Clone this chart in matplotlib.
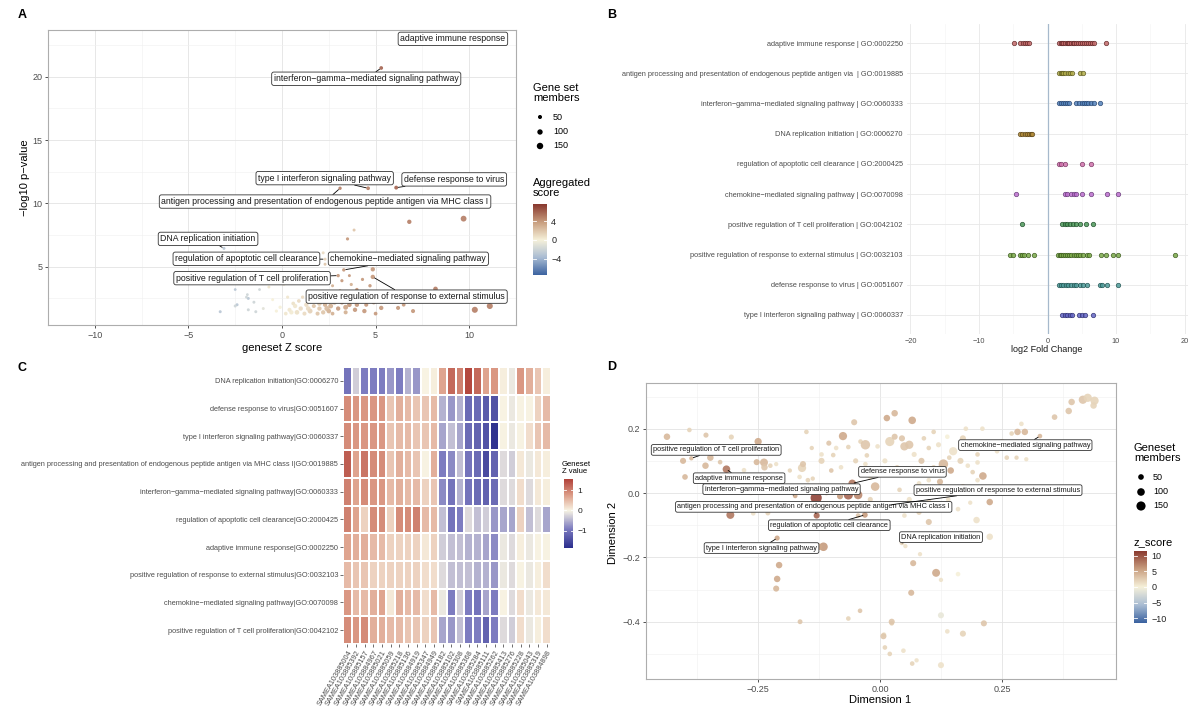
import matplotlib
matplotlib.use("Agg")
import matplotlib.pyplot as plt
import numpy as np
from matplotlib.colors import LinearSegmentedColormap, Normalize, TwoSlopeNorm

plt.rcParams['font.family'] = ['Liberation Sans', 'DejaVu Sans']
M = "\u2212"

# ---------------- panel A data: geneset Z score vs -log10 p ----------------
a_lab_terms = ["adaptive immune response",
               f"interferon{M}gamma{M}mediated signaling pathway",
               "type I interferon signaling pathway",
               "defense response to virus",
               "antigen processing and presentation of endogenous peptide antigen via MHC class I",
               "DNA replication initiation",
               "regulation of apoptotic cell clearance",
               f"chemokine{M}mediated signaling pathway",
               "positive regulation of T cell proliferation",
               "positive regulation of response to external stimulus"]
a_lab_z = [9.0, 5.3, 4.6, 6.1, 3.1, -3.1, 2.3, 3.3, 3.0, 4.85]
a_lab_p = [22.8, 20.7, 11.2, 11.25, 11.2, 6.45, 5.6, 4.75, 4.3, 4.2]
a_lab_members = [140, 40, 40, 45, 30, 20, 20, 30, 30, 60]
a_lab_score = [6.5, 6, 5, 6, 5, -3, 1.5, 4, 4, 4]

a_z = [6.8, 9.7, 3.85, 3.5, 2.2, 2.3, 4.85, 8.2, 4.3, 3.7,
       3.2, 2.7, 11.1, 10.3, 6.2, 5.3, 4.9, 4.5, 4.2, 3.9,
       3.6, 3.3, 3.0, 2.8, 2.5, 2.3, 2.0, 1.8, 1.5, 1.3,
       1.0, 0.8, 0.6, 0.4, 0.2, -0.1, 1.1, 1.6, 2.1, 2.6,
       3.1, 3.5, 4.0, 4.7, 2.9, 3.8, 3.4, 2.7, 1.9, 1.2,
       4.4, 5.0, 5.7, 6.5, 7.0, 2.4, 1.7, 0.9, 0.3, -0.7,
       -1.0, -1.2, -1.4, -1.8, -1.8, -1.85, -2.4, -2.5, -2.5, -3.3,
       -1.9, -1.5, -0.5, -0.3, 0.1, 3.6, 2.5, 2.0, 1.4, 3.2,
       0.7, 1.6, 2.2, 0.5, 1.9, 2.6, 3.4, 4.0, 3.7, 2.4]
a_p = [8.55, 8.8, 7.9, 7.2, 6.1, 5.2, 4.8, 3.25, 4.0, 3.6,
       3.9, 3.5, 1.9, 1.6, 1.75, 1.75, 2.2, 2.0, 2.4, 1.6,
       2.0, 2.5, 1.7, 2.2, 1.5, 2.0, 1.7, 2.3, 1.5, 2.0,
       1.7, 1.4, 2.1, 1.6, 1.3, 1.8, 2.6, 3.0, 2.8, 3.0,
       3.1, 2.8, 3.2, 3.5, 2.6, 2.7, 1.4, 1.3, 1.3, 1.3,
       1.5, 1.3, 2.4, 2.0, 1.5, 2.4, 1.9, 2.3, 2.6, 3.4,
       1.7, 3.2, 1.45, 1.6, 2.5, 2.8, 2.0, 3.2, 1.9, 1.45,
       2.6, 2.2, 2.4, 1.5, 3.6, 4.3, 4.2, 2.1, 1.7, 2.2,
       1.9, 2.4, 1.4, 1.4, 2.6, 1.9, 1.8, 2.0, 2.4, 1.7]
a_members = [60, 120, 20, 25, 20, 20, 60, 70, 25, 25,
             25, 20, 130, 130, 50, 60, 60, 50, 70, 60,
             70, 40, 60, 80, 70, 60, 60, 50, 80, 60,
             60, 70, 40, 50, 40, 30, 30, 25, 30, 30,
             25, 30, 30, 30, 70, 50, 50, 40, 50, 50,
             60, 40, 30, 40, 50, 50, 50, 40, 25, 20,
             20, 15, 20, 20, 20, 15, 20, 15, 20, 20,
             15, 20, 20, 25, 15, 20, 20, 70, 70, 70,
             60, 60, 60, 60, 40, 80, 80, 60, 60, 90]
a_score = [5, 5, 2, 4, 1, 2, 4, 5, 4, 3,
           4, 3, 5, 5, 4, 4, 4, 4, 4, 4,
           4, 4, 4, 3, 3, 3, 2, 2, 1.5, 1,
           1, 0.8, 0.8, 0.5, 0.5, 0, 1, 2, 2, 3,
           3, 3, 4, 4, 3, 4, 3, 3, 2, 1,
           4, 4, 4, 4, 4, 3, 2, 1, 0.5, 0.5,
           -1, -2, -2, -2, -3, -2, -3, -3, -2, -3,
           -2, -2, 0, 0, 0.5, 4, 3, 2, 1, 4,
           0.5, 1.5, 2, 0.3, 2, 3, 3.5, 4, 3.5, 2.5]

# ---------------- panel B data: log2 fold change per gene set ----------------
b_terms = ["adaptive immune response | GO:0002250",
           "antigen processing and presentation of endogenous peptide antigen via  | GO:0019885",
           f"interferon{M}gamma{M}mediated signaling pathway | GO:0060333",
           "DNA replication initiation | GO:0006270",
           "regulation of apoptotic cell clearance | GO:2000425",
           f"chemokine{M}mediated signaling pathway | GO:0070098",
           "positive regulation of T cell proliferation | GO:0042102",
           "positive regulation of response to external stimulus | GO:0032103",
           "defense response to virus | GO:0051607",
           "type I interferon signaling pathway | GO:0060337"]
b_log2fc = [
    [-4.9, -4.0, -3.6, -3.3, -3.0, -2.7, 1.7, 1.9, 2.1, 2.3, 2.5, 2.8, 3.0, 3.2, 3.5, 3.7,
     3.9, 4.2, 4.5, 4.8, 5.0, 5.3, 5.6, 5.9, 6.2, 6.5, 6.8, 8.5],
    [1.7, 1.9, 2.1, 2.3, 2.6, 3.0, 3.3, 3.6, 4.7, 5.2],
    [1.7, 1.9, 2.2, 2.5, 2.9, 3.2, 4.2, 4.6, 5.0, 5.3, 5.6, 5.9, 6.3, 6.8, 7.7],
    [-4.0, -3.7, -3.3, -3.0, -2.7, -2.4, -2.2],
    [1.7, 2.0, 2.5, 5.0, 6.3],
    [-4.6, 2.6, 2.9, 3.5, 3.8, 4.2, 5.0, 6.3, 8.7, 10.3],
    [-3.7, 2.1, 2.5, 2.9, 3.3, 3.7, 4.2, 4.7, 5.6, 6.6],
    [-5.5, -5.0, -4.0, -3.7, -3.5, -2.8, -1.9, 1.5, 1.8, 2.0, 2.3, 2.6, 2.9, 3.2, 3.5,
     3.8, 4.1, 4.4, 4.8, 5.2, 5.7, 6.0, 7.8, 8.6, 9.5, 10.3, 18.6],
    [1.7, 2.0, 2.3, 2.7, 3.0, 3.4, 3.8, 4.2, 4.7, 5.2, 5.7, 7.6, 7.9, 8.7, 10.3],
    [2.1, 2.5, 2.9, 3.3, 3.6, 4.6, 5.0, 5.4, 6.7],
]
b_fill = ["#c46a6a", "#b3ae4c", "#5684bd", "#b08a38", "#d273ad",
          "#bd6fcf", "#4f9a5c", "#7cab4a", "#4f9c9a", "#6567c6"]
b_edge = ["#5e2424", "#5a571c", "#24436e", "#5a4316", "#76325f",
          "#633675", "#1b4a26", "#38561a", "#1b4f4d", "#2a2b6e"]

# ---------------- panel C data: heatmap of geneset Z values ----------------
c_terms = ["DNA replication initiation|GO:0006270",
           "defense response to virus|GO:0051607",
           "type I interferon signaling pathway|GO:0060337",
           "antigen processing and presentation of endogenous peptide antigen via MHC class I|GO:0019885",
           f"interferon{M}gamma{M}mediated signaling pathway|GO:0060333",
           "regulation of apoptotic cell clearance|GO:2000425",
           "adaptive immune response|GO:0002250",
           "positive regulation of response to external stimulus|GO:0032103",
           f"chemokine{M}mediated signaling pathway|GO:0070098",
           "positive regulation of T cell proliferation|GO:0042102"]
c_samples = ["SAMEA103885004", "SAMEA103885392", "SAMEA103885157", "SAMEA103884967",
             "SAMEA103885021", "SAMEA103885059", "SAMEA103885218", "SAMEA103885136",
             "SAMEA103884919", "SAMEA103885347", "SAMEA103884949", "SAMEA103885182",
             "SAMEA103885102", "SAMEA103885308", "SAMEA103885368", "SAMEA103885284",
             "SAMEA103885111", "SAMEA103885262", "SAMEA103885413", "SAMEA103885276",
             "SAMEA103885228", "SAMEA103885043", "SAMEA103885319", "SAMEA103884898"]
c_z = [
    [-1.0, -0.3, -0.9, -0.9, -0.9, -0.7, -0.9, -0.5, -0.7, 0.0, 0.05, 0.7, 1.2, 1.0, 1.5, 1.2, 0.7, 0.8, 0.05, -0.1, 0.8, 0.6, 0.4, 0.05],
    [0.9, 0.8, 0.8, 0.8, 0.8, 0.4, 0.6, 0.5, 0.4, 0.4, 0.5, -0.5, -0.7, -0.5, -1.1, -1.1, -1.3, -1.4, 0.0, -0.1, 0.02, 0.02, 0.3, 0.5],
    [0.9, 0.8, 0.8, 0.8, 0.8, 0.4, 0.5, 0.5, 0.4, 0.4, 0.5, -0.6, -0.4, -0.6, -1.1, -1.2, -1.4, -1.8, 0.02, -0.1, 0.02, 0.2, 0.4, 0.5],
    [1.3, 0.7, 1.1, 0.9, 0.9, 0.4, 0.6, 0.5, 0.4, 0.02, 0.6, -0.9, -0.8, -0.4, -1.0, -1.1, -1.5, -1.2, -0.2, -0.3, 0.1, -0.1, 0.1, 0.05],
    [1.0, 0.7, 0.9, 0.8, 0.8, 0.5, 0.6, 0.5, 0.5, 0.3, 0.4, -0.8, -1.0, -0.5, -1.0, -1.1, -1.2, -1.1, -0.2, -0.2, 0.2, -0.2, 0.1, 0.05],
    [1.0, 0.7, 0.3, 0.9, 0.9, 0.3, 0.9, 0.9, 1.0, 0.5, 0.5, -0.4, -1.0, -0.9, -0.2, -0.4, -0.3, -0.7, -0.6, -0.6, 0.3, -0.4, -0.2, -0.6],
    [0.7, 0.6, 0.6, 0.5, 0.5, 0.3, 0.3, 0.3, 0.3, 0.1, 0.3, -0.3, -0.4, -0.4, -0.5, -0.5, -0.6, -0.8, -0.1, -0.2, 0.05, -0.1, 0.02, 0.02],
    [0.5, 0.4, 0.4, 0.3, 0.3, 0.3, 0.3, 0.3, 0.3, 0.2, 0.2, -0.2, -0.4, -0.4, -0.4, -0.5, -0.5, -0.7, -0.1, -0.2, 0.02, -0.1, 0.05, 0.2],
    [0.8, 0.5, 0.5, 0.6, 0.7, 0.1, 0.6, 0.5, 0.5, 0.2, 0.5, -0.1, -0.9, -0.3, -0.9, -1.0, -0.6, -0.9, 0.02, -0.2, 0.2, -0.1, 0.1, 0.1],
    [0.9, 0.8, 0.9, 0.6, 0.6, 0.5, 0.5, 0.4, 0.4, 0.3, 0.4, -0.6, -0.7, -0.4, -0.9, -0.9, -1.2, -0.9, -0.2, -0.3, 0.2, -0.1, 0.05, 0.2],
]

# ---------------- panel D data: MDS of gene sets ----------------
d_lab_terms = ["positive regulation of T cell proliferation",
               "adaptive immune response",
               f"interferon{M}gamma{M}mediated signaling pathway",
               "antigen processing and presentation of endogenous peptide antigen via MHC class I",
               "defense response to virus",
               "regulation of apoptotic cell clearance",
               "type I interferon signaling pathway",
               "DNA replication initiation",
               "positive regulation of response to external stimulus",
               f"chemokine{M}mediated signaling pathway"]
d_lab_x = [-0.387, -0.315, -0.174, -0.13, -0.057, -0.031, -0.211, 0.045, 0.02, 0.328]
d_lab_y = [0.108, 0.074, -0.009, -0.07, 0.03, -0.068, -0.14, -0.155, -0.037, 0.177]
d_lab_members = [25, 100, 30, 60, 100, 50, 40, 30, 40, 30]
d_lab_z = [4, 8, 5, 9, 8, 6, 5, 2, 3, 4]

d_x = [-0.437, -0.391, -0.357, -0.305, -0.25, -0.404, -0.348, -0.358, -0.40, -0.328,
       -0.307, -0.279, -0.253, -0.238, -0.237, -0.225, -0.213, -0.26, -0.23, -0.207,
       -0.211, -0.213, -0.164, -0.28, -0.33, -0.243, -0.265, -0.116, -0.125, -0.131,
       -0.16, -0.158, -0.151, -0.14, -0.165, -0.148, -0.138, -0.096, -0.09, -0.076,
       -0.065, -0.053, -0.04, -0.03, -0.027, -0.065, -0.045, -0.082, -0.075, -0.07,
       -0.045, -0.065, -0.041, -0.01, -0.02, -0.005, -0.11, -0.1, -0.12, -0.105,
       -0.185, -0.19, -0.02, 0.014, 0.03, 0.024, 0.008, 0.02, 0.02, 0.066,
       0.045, 0.03, 0.06, 0.05, 0.07, 0.085, 0.1, 0.123, 0.126, 0.15,
       0.142, 0.145, 0.13, 0.122, 0.11, 0.211, 0.18, 0.19, 0.2, 0.225,
       0.198, 0.225, 0.185, 0.096, 0.074, 0.052, 0.082, 0.068, 0.115, 0.16,
       0.125, 0.064, 0.125, 0.213, 0.024, 0.138, 0.17, 0.007, 0.01, 0.048,
       0.066, 0.125, 0.075, 0.05, 0.08, 0.1, 0.06, 0.04, 0.1, 0.16,
       0.17, 0.393, 0.416, 0.426, 0.44, 0.438, 0.387, 0.358, 0.297, 0.282,
       0.27, 0.29, 0.28, 0.3, 0.26, 0.176, 0.27, 0.25, 0.01, 0.035,
       0.055, -0.01, 0.09, 0.11, 0.17, 0.19, 0.2, 0.24, 0.165, 0.21,
       -0.03, -0.05, 0.12, 0.138, 0.08, 0.14, 0.1, 0.2, -0.08, -0.12]
d_y = [0.175, 0.196, 0.18, 0.174, 0.16, 0.10, 0.11, 0.085, 0.05, 0.096,
       -0.068, 0.071, 0.096, 0.095, 0.08, 0.085, 0.09, -0.063, -0.062, -0.224,
       -0.267, -0.297, -0.40, 0.13, 0.13, 0.03, 0.0, -0.167, -0.167, -0.015,
       0.078, 0.09, 0.19, 0.14, 0.05, 0.04, 0.045, 0.118, 0.14, 0.177,
       0.143, 0.22, 0.16, 0.15, 0.117, -0.006, -0.006, -0.01, 0.02, -0.05,
       -0.07, -0.39, -0.366, 0.02, 0.05, 0.145, 0.0, 0.07, 0.1, 0.155,
       0.07, -0.04, -0.02, 0.233, 0.248, -0.405, -0.44, -0.50, 0.16, 0.226,
       0.17, 0.175, 0.15, 0.145, 0.12, 0.1, 0.14, 0.035, 0.01, 0.13,
       0.11, 0.07, 0.09, 0.075, 0.08, 0.053, 0.085, 0.065, 0.095, -0.028,
       -0.084, -0.136, -0.03, -0.136, -0.138, -0.165, -0.19, -0.218, -0.248, -0.252,
       -0.27, -0.31, -0.38, -0.405, -0.40, -0.43, -0.437, -0.445, -0.48, -0.49,
       -0.53, -0.535, -0.52, -0.07, -0.06, -0.09, -0.02, 0.01, 0.04, -0.05,
       0.02, 0.283, 0.29, 0.296, 0.287, 0.272, 0.255, 0.236, 0.19, 0.19,
       0.185, 0.215, 0.11, 0.105, 0.11, 0.2, 0.14, 0.16, 0.1, 0.08,
       0.06, 0.07, 0.17, 0.19, 0.17, 0.14, 0.12, 0.13, 0.1, 0.2,
       0.09, 0.1, 0.15, 0.175, 0.03, -0.02, -0.03, 0.04, 0.08, 0.12]
d_members = [70, 30, 40, 40, 90, 60, 70, 70, 50, 30,
             110, 30, 60, 110, 70, 30, 25, 30, 35, 70,
             70, 60, 35, 25, 30, 25, 25, 130, 70, 230,
             120, 60, 30, 25, 30, 30, 25, 30, 30, 120,
             30, 60, 30, 160, 30, 150, 130, 60, 60, 30,
             30, 30, 30, 130, 30, 30, 30, 30, 60, 40,
             25, 30, 40, 70, 70, 30, 30, 30, 150, 100,
             60, 60, 120, 120, 40, 60, 30, 60, 30, 120,
             30, 70, 160, 70, 30, 100, 30, 30, 30, 70,
             70, 70, 25, 70, 60, 25, 25, 60, 110, 30,
             25, 60, 60, 60, 60, 30, 60, 60, 30, 30,
             30, 60, 25, 30, 40, 60, 40, 30, 30, 30,
             40, 70, 120, 120, 120, 70, 70, 50, 70, 70,
             30, 30, 25, 25, 30, 30, 25, 40, 40, 30,
             60, 40, 30, 30, 60, 40, 30, 30, 60, 30,
             30, 40, 40, 30, 30, 30, 60, 30, 30, 30]
d_z = [4, 2, 3, 2, 5, 4, 4, 4, 4, 3,
       8, 1, 4, 4, 3, 2, 1, 1, 2, 5,
       5, 4, 3, 2, 3, 2, 1, 6, 5, 11,
       2, 3, 2, 2, 1, 2, 2, 2, 1, 5,
       2, 3, 2, 3, 2, 9, 7, 6, 4, 2,
       3, 2, 3, 4, 1, 1, 3, 3, 2, 3,
       2, 2, 2, 5, 4, 2, 1, 2, 2, 5,
       3, 3, 3, 3, 1, 3, 2, 4, 2, 1,
       2, 5, 4, 4, 2, 5, 1, 2, 1, 5,
       1, 1, 1, 4, 4, 1, 1, 4, 5, 0,
       1, 4, -1, 3, 3, 1, 2, 3, 2, 1,
       2, 1, 1, 1, 2, 3, 1, 2, 1, 1,
       2, 3, 3, 2, 2, 2, 3, 3, 4, 4,
       2, 1, 2, 1, 2, 1, 1, 2, 1, 2,
       2, 2, 2, 2, 2, 3, 2, 1, 2, 1,
       1, 2, 1, 0, 1, 1, 2, 1, 1, 1]

legend_members = [50, 100, 150]

# ---------------- layout helpers ----------------
W, H = 1200, 722


def box(l, t, r, b):
    return [l / W, 1 - b / H, (r - l) / W, (b - t) / H]


def size_a(m):
    return 2 + 0.13 * np.asarray(m, dtype=float)


def size_d(m):
    return 3 + 0.27 * np.asarray(m, dtype=float)


score_cmap = LinearSegmentedColormap.from_list(
    "score", ["#3a62a0", "#a9bcd3", "#f6f1da", "#c99f80", "#8a3a30"])
heat_cmap = LinearSegmentedColormap.from_list(
    "heat", ["#2c2f8e", "#7b7abf", "#f8f4e4", "#dc9b86", "#b1423a"])

TXT = "#4d4d4d"


def style_bw(ax):
    ax.set_facecolor("white")
    for s in ax.spines.values():
        s.set_color("#adadad")
        s.set_linewidth(0.8)
    ax.grid(which="major", color="#e3e3e3", lw=0.6)
    ax.grid(which="minor", color="#f0f0f0", lw=0.4)
    ax.set_axisbelow(True)
    ax.tick_params(which="major", length=2.5, width=0.6, color="#333333",
                   labelsize=6.5, labelcolor=TXT, pad=1.5)
    ax.tick_params(which="minor", length=0)


def gradient_bar(rect, cmap, norm, vmin, vmax, ticks, labels, fs):
    cax = fig.add_axes(box(*rect))
    grad = np.linspace(vmin, vmax, 256)[:, None]
    cax.imshow(grad, extent=[0, 1, vmin, vmax], origin="lower", aspect="auto",
               cmap=cmap, norm=norm)
    for t in ticks:
        cax.plot([0, 0.2], [t, t], color="white", lw=0.6)
        cax.plot([0.8, 1], [t, t], color="white", lw=0.6)
    cax.set_xlim(0, 1)
    cax.set_ylim(vmin, vmax)
    cax.set_xticks([])
    cax.yaxis.tick_right()
    cax.set_yticks(ticks)
    cax.set_yticklabels(labels)
    cax.tick_params(axis="y", length=0, labelsize=fs, pad=3, labelcolor="#222222")
    for s in cax.spines.values():
        s.set_visible(False)
    return cax


def draw_labels(ax, terms, px, py, tx, ty, fs):
    for t, x0, y0, x1, y1 in zip(terms, px, py, tx, ty):
        ax.annotate(t, xy=(x0, y0), xytext=(x1, y1), fontsize=fs, color="#1a1a1a",
                    ha="center", va="center", zorder=6,
                    bbox=dict(boxstyle="round,pad=0.25,rounding_size=0.25",
                              fc="white", ec="#333333", lw=0.6),
                    arrowprops=dict(arrowstyle="-", lw=0.6, color="black",
                                    shrinkA=0, shrinkB=1.5))


fig = plt.figure(figsize=(12, 7.22), dpi=100)

# ---------------- panel A ----------------
ax_a = fig.add_axes(box(48, 30, 516, 325))
style_bw(ax_a)
score_norm = Normalize(-7.5, 7.5)
ax_a.scatter(a_z, a_p, s=size_a(a_members), c=a_score, cmap=score_cmap,
             norm=score_norm, alpha=0.9, linewidths=0, zorder=3)
ax_a.scatter(a_lab_z, a_lab_p, s=size_a(a_lab_members), c=a_lab_score,
             cmap=score_cmap, norm=score_norm, alpha=0.9, linewidths=0, zorder=3)
ax_a.set_xlim(-12.3, 12.3)
ax_a.set_ylim(0.4, 23.7)
ax_a.set_xticks([-10, -5, 0, 5, 10])
ax_a.set_xticks([-12.5, -7.5, -2.5, 2.5, 7.5, 12.5], minor=True)
ax_a.set_yticks([5, 10, 15, 20])
ax_a.set_yticks([2.5, 7.5, 12.5, 17.5, 22.5], minor=True)
a_tx = [9.13, 4.5, 2.28, 9.2, 2.3, -3.95, -1.9, 6.75, -1.6, 6.66]
a_ty = [23.0, 19.85, 12.0, 11.9, 10.15, 7.2, 5.63, 5.63, 4.1, 2.64]
draw_labels(ax_a, a_lab_terms, a_lab_z, a_lab_p, a_tx, a_ty, 6.3)

# ---------------- panel B ----------------
ax_b = fig.add_axes(box(907, 24, 1188, 334))
ax_b.set_facecolor("white")
for s in ax_b.spines.values():
    s.set_visible(False)
ax_b.grid(which="major", color="#e8e8e8", lw=0.6)
ax_b.grid(which="minor", axis="x", color="#f3f3f3", lw=0.4)
ax_b.set_axisbelow(True)
ax_b.axvline(0, color="#a6b9cc", lw=0.9, zorder=1)
for i, vals in enumerate(b_log2fc):
    ax_b.scatter(vals, [i + 1] * len(vals), s=10, facecolor=b_fill[i],
                 edgecolor=b_edge[i], linewidths=0.55, alpha=0.85, zorder=3)
ax_b.set_xlim(-20.5, 20.5)
ax_b.set_ylim(10.63, 0.37)
ax_b.set_xticks([-20, -10, 0, 10, 20])
ax_b.set_xticks([-15, -5, 5, 15], minor=True)
ax_b.set_yticks(range(1, len(b_terms) + 1))
ax_b.set_yticklabels(b_terms)
ax_b.tick_params(which="both", length=0, labelsize=5.3, labelcolor=TXT, pad=3)

# ---------------- panel C ----------------
ax_c = fig.add_axes(box(343, 367, 551, 644))
heat_norm = TwoSlopeNorm(vmin=-1.85, vcenter=0, vmax=1.55)
ax_c.pcolormesh(np.arange(len(c_samples) + 1), np.arange(len(c_terms) + 1),
                np.array(c_z), cmap=heat_cmap, norm=heat_norm,
                edgecolors="white", linewidth=0.25)
ax_c.set_xlim(0, len(c_samples))
ax_c.set_ylim(len(c_terms), 0)
for s in ax_c.spines.values():
    s.set_visible(False)
ax_c.set_xticks(np.arange(len(c_samples)) + 0.5)
ax_c.set_xticklabels(c_samples, rotation=60, ha="right", va="top",
                     rotation_mode="anchor")
ax_c.set_yticks(np.arange(len(c_terms)) + 0.5)
ax_c.set_yticklabels(c_terms)
ax_c.tick_params(length=2, width=0.5, color="#333333", labelsize=5.3,
                 labelcolor=TXT, pad=1.5)

# ---------------- panel D ----------------
ax_d = fig.add_axes(box(646, 383, 1116, 679))
style_bw(ax_d)
z_norm = Normalize(-11.6, 11.6)
ax_d.scatter(d_x, d_y, s=size_d(d_members), c=d_z, cmap=score_cmap, norm=z_norm,
             alpha=0.9, linewidths=0, zorder=3)
ax_d.scatter(d_lab_x, d_lab_y, s=size_d(d_lab_members), c=d_lab_z, cmap=score_cmap,
             norm=z_norm, alpha=0.9, linewidths=0, zorder=3)
ax_d.set_xlim(-0.48, 0.484)
ax_d.set_ylim(-0.578, 0.342)
ax_d.set_xticks([-0.25, 0, 0.25])
ax_d.set_xticklabels([f"{M}0.25", "0.00", "0.25"])
ax_d.set_xticks([-0.375, -0.125, 0.125, 0.375], minor=True)
ax_d.set_yticks([-0.4, -0.2, 0, 0.2])
ax_d.set_yticklabels([f"{M}0.4", f"{M}0.2", "0.0", "0.2"])
ax_d.set_yticks([-0.5, -0.3, -0.1, 0.1, 0.3], minor=True)
d_tx = [-0.336, -0.289, -0.202, -0.136, 0.046, -0.104, -0.243, 0.125, 0.242, 0.298]
d_ty = [0.134, 0.046, 0.012, -0.043, 0.066, -0.1, -0.171, -0.137, 0.009, 0.149]
draw_labels(ax_d, d_lab_terms, d_lab_x, d_lab_y, d_tx, d_ty, 5.3)

# ---------------- colour bars ----------------
gradient_bar((533, 204, 547, 275), score_cmap, score_norm, -7.4, 7.6,
             [-4, 0, 4], [f"{M}4", "0", "4"], 6.5)
gradient_bar((564, 479, 573, 548), heat_cmap, heat_norm, -1.85, 1.55,
             [-1, 0, 1], [f"{M}1", "0", "1"], 6.0)
gradient_bar((1134, 551, 1147, 623), score_cmap, z_norm, -11.6, 11.6,
             [-10, -5, 0, 5, 10], [f"{M}10", f"{M}5", "0", "5", "10"], 6.5)

# ---------------- overlay: titles, panel letters, size legends ----------------
ov = fig.add_axes([0, 0, 1, 1], zorder=5)
ov.set_xlim(0, W)
ov.set_ylim(H, 0)
ov.axis("off")
ov.patch.set_alpha(0)

for letter, x, y in [("A", 22, 15), ("B", 612, 15), ("C", 22, 368), ("D", 612, 367)]:
    ov.text(x, y, letter, fontsize=9, fontweight="bold", ha="center", va="center")

ov.text(282, 348, "geneset Z score", fontsize=8, ha="center", va="center")
ov.text(25, 178, f"{M}log10 p{M}value", fontsize=8, rotation=90, ha="center", va="center")
ov.text(1047, 350, "log2 Fold Change", fontsize=6.5, ha="center", va="center", color="#1a1a1a")
ov.text(880, 700, "Dimension 1", fontsize=8, ha="center", va="center")
ov.text(613, 533, "Dimension 2", fontsize=8, rotation=90, ha="center", va="center")

ov.text(533, 93, "Gene set\nmembers", fontsize=8, ha="left", va="center", linespacing=1.0)
ov.scatter([540] * 3, [117, 132, 146], s=size_a(legend_members), c="black", linewidths=0)
for m, y in zip(legend_members, [117, 132, 146]):
    ov.text(553, y, str(m), fontsize=6.5, ha="left", va="center")
ov.text(533, 188, "Aggregated\nscore", fontsize=8, ha="left", va="center", linespacing=1.0)

ov.text(562, 468, "Geneset\nZ value", fontsize=5.5, ha="left", va="center", linespacing=1.0)

ov.text(1134, 453, "Geneset\nmembers", fontsize=8, ha="left", va="center", linespacing=1.0)
ov.scatter([1141] * 3, [477, 492, 506], s=size_d(legend_members), c="black", linewidths=0)
for m, y in zip(legend_members, [477, 492, 506]):
    ov.text(1153, y, str(m), fontsize=6.5, ha="left", va="center")
ov.text(1134, 542, "z_score", fontsize=8, ha="left", va="center")

fig.savefig("out.png", dpi=100)
